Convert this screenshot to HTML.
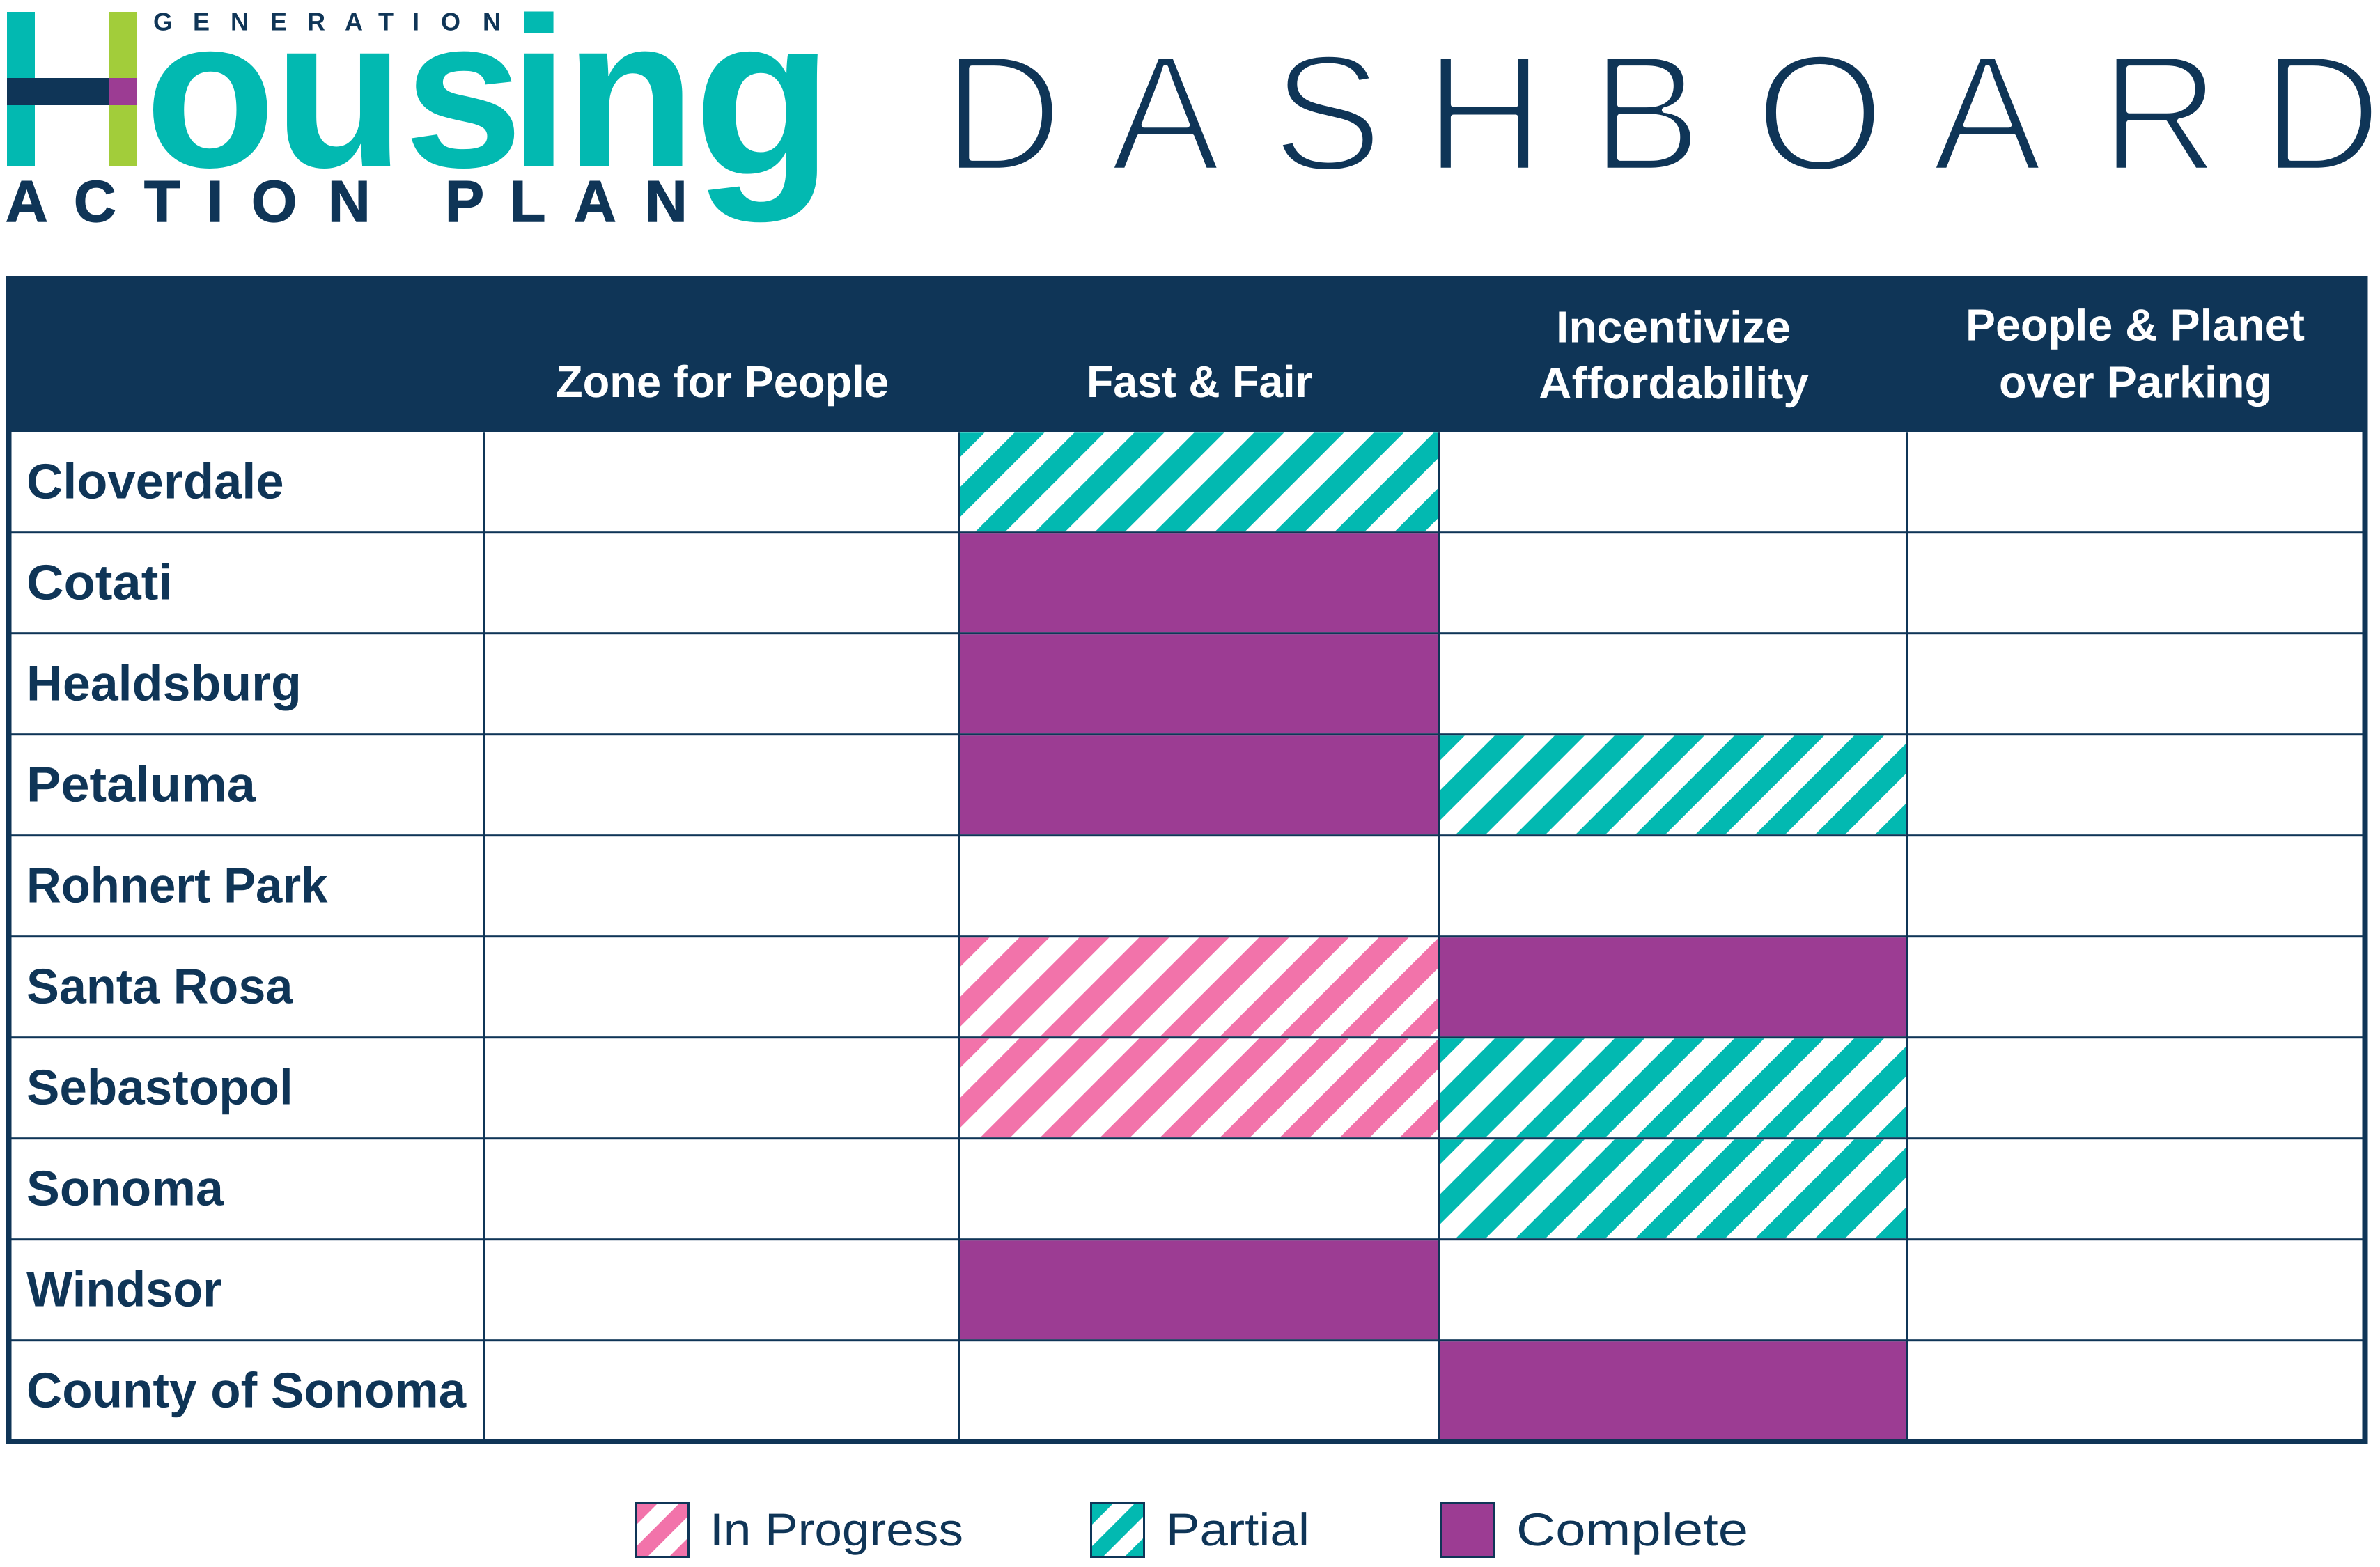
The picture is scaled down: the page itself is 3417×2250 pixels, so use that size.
<!DOCTYPE html>
<html lang="en">
<head>
<meta charset="utf-8">
<title>Generation Housing Action Plan Dashboard</title>
<style>
html,body{margin:0;padding:0;background:#fff;width:3417px;height:2250px;overflow:hidden}
svg{display:block}
text{font-family:"Liberation Sans",Arial,sans-serif;text-rendering:geometricPrecision}
.b{font-weight:700}
.hd{font-weight:700;font-size:64px;fill:#fff}
.lg{font-size:66px;fill:#0f3557}
</style>
</head>
<body>
<svg id="dash" xmlns="http://www.w3.org/2000/svg" width="3417" height="2250" viewBox="0 0 3417 2250">
  <rect x="0" y="0" width="3417" height="2250" fill="#fff"/>
  <g>
    <rect x="10" y="17" width="40" height="222" fill="#02b9b1"/>
    <rect x="157" y="17" width="39.5" height="222" fill="#a2cd3a"/>
    <rect x="10" y="112" width="147" height="39" fill="#0f3557"/>
    <rect x="157" y="112" width="39.5" height="39" fill="#9c3c93"/>
    <text class="b" font-size="307" fill="#02b9b1" x="208 393 580 731 811 996" y="239">ousin<tspan font-size="327" y="250">g</tspan></text>
    <text class="b" font-size="36" fill="#0f3557" x="220 277 331 388 441 495 543 592 633 693" y="43.5">GENERATION</text>
    <text class="b" font-size="84" fill="#0f3557" stroke="#0f3557" stroke-width="1.5" x="8 106 207 297 361 471 550 639 732 824 926" y="318">ACTION PLAN</text>
  </g>
  <text font-size="239" fill="#0f3557" stroke="#fff" stroke-width="8" stroke-linejoin="round" x="1353.4 1593.5 1826 2045 2284 2520 2773.5 3015 3247" y="244.7">DASHBOARD</text>

  <rect x="8" y="397" width="3391.5" height="224" fill="#0f3557"/>
  <g id="cells"></g>
  <g id="grid"></g>
  <g id="rowLabels"></g>
  <g fill="#0f3557">
    <rect x="8" y="397" width="8.5" height="1676"/>
    <rect x="3391.5" y="397" width="8" height="1676"/>
    <rect x="8" y="2066" width="3391.5" height="7"/>
  </g>

  <g>
    <text class="hd" x="798" y="570" textLength="478" lengthAdjust="spacingAndGlyphs">Zone for People</text>
    <text class="hd" x="1560" y="570" textLength="324" lengthAdjust="spacingAndGlyphs">Fast &amp; Fair</text>
    <text class="hd" x="2234" y="491.7" textLength="337" lengthAdjust="spacingAndGlyphs">Incentivize</text>
    <text class="hd" x="2209" y="572" textLength="388" lengthAdjust="spacingAndGlyphs">Affordability</text>
    <text class="hd" x="2822" y="488.7" textLength="487" lengthAdjust="spacingAndGlyphs">People &amp; Planet</text>
    <text class="hd" x="2870" y="570.7" textLength="392" lengthAdjust="spacingAndGlyphs">over Parking</text>
  </g>

  <g id="legend">
    <text class="lg" x="1019" y="2219" textLength="364" lengthAdjust="spacingAndGlyphs">In Progress</text>
    <text class="lg" x="1674" y="2219" textLength="206" lengthAdjust="spacingAndGlyphs">Partial</text>
    <text class="lg" x="2177" y="2219" textLength="333" lengthAdjust="spacingAndGlyphs">Complete</text>
  </g>
</svg>

<script>
// ---- data ----
const cities = ["Cloverdale","Cotati","Healdsburg","Petaluma","Rohnert Park","Santa Rosa","Sebastopol","Sonoma","Windsor","County of Sonoma"];
const actions = ["Zone for People","Fast & Fair","Incentivize Affordability","People & Planet over Parking"];
const statusNames = ["none","in-progress","partial","complete"];
// status code per city (0 none, 1 in progress, 2 partial, 3 complete)
const zoneForPeople = [0,0,0,0,0,0,0,0,0,0];
const fastAndFair   = [2,3,3,3,0,1,1,0,3,0];
const incentivize   = [0,0,0,2,0,3,2,2,0,3];
const peoplePlanet  = [0,0,0,0,0,0,0,0,0,0];
const series = [zoneForPeople, fastAndFair, incentivize, peoplePlanet];

// ---- axes and layout ----
const NS = "http://www.w3.org/2000/svg";
const NAVY = "#0f3557", TEAL = "#02b9b1", PINK = "#f273aa", PURPLE = "#9c3c93";
const ROW_H = 145, FIRST_ROW = 621.2, TABLE_BOTTOM = 2066;
const COL_EDGES = [16.5, 695, 1377.5, 2067, 2738.5, 3391.5];
const LINE_W = 3;
// typographic width correction for the substitute font
const LABEL_STRETCH = {"Cloverdale":1.018,"Cotati":1.044,"Healdsburg":1.011,"Petaluma":1.042,"Rohnert Park":0.97,"Santa Rosa":0.989,"Sebastopol":1,"Sonoma":1.01,"Windsor":0.99,"County of Sonoma":1};
function rowTop(i){ return FIRST_ROW + ROW_H * i; }
function rowBottom(i){ return Math.min(rowTop(i + 1) - LINE_W, TABLE_BOTTOM); }
function colLeft(j){ return COL_EDGES[j + 1]; }
function colRight(j){ return COL_EDGES[j + 2]; }
function slug(s){ return s.toLowerCase().replace(/[^a-z]+/g, "-"); }

function el(tag, parent, attrs){
  const e = document.createElementNS(NS, tag);
  for (const k in attrs) e.setAttribute(k, attrs[k]);
  parent.appendChild(e);
  return e;
}

let clipId = 0;
function drawStripes(parent, x, y, w, h, color, period, offset){
  const id = "clip" + (clipId++);
  const defs = el("clipPath", parent, {id: id});
  const clipRect = el("rect", defs, {x: x, y: y, width: w, height: h});
  
  
  const g = el("g", parent, {"clip-path": "url(#" + id + ")"});
  
  
  const sw = (period / 2) / Math.SQRT2;
  const n = Math.ceil((w + h) / period) + 1;
  for (let k = -1; k <= n; k++){
    const u = offset + period / 4 + k * period;
    const ln = el("line", g, {
      x1: x + u + 20, y1: y - 20,
      x2: x + u - h - 20, y2: y + h + 20,
      stroke: color, "stroke-width": sw
    });
    
    
  }
}

// ---- cells ----
const cellsG = document.getElementById("cells");
series.forEach(function(values, j){
  values.forEach(function(status, i){
    const x = colLeft(j), y = rowTop(i), w = colRight(j) - x, h = rowBottom(i) - y;
    const bg = el("rect", cellsG, {x: x, y: y, width: w, height: h, fill: status === 3 ? PURPLE : "#fff"});
    
    
    if (status === 1) drawStripes(cellsG, x, y, w, h, PINK, 86, 0);
    if (status === 2) drawStripes(cellsG, x, y, w, h, TEAL, 86, -7);
  });
});

// ---- grid ----
const gridG = document.getElementById("grid");
cities.forEach(function(c, i){
  if (i === 0) return;
  const rl = el("rect", gridG, {x: 16.5, y: rowTop(i) - LINE_W, width: 3375, height: LINE_W, fill: NAVY});
  
  
});
COL_EDGES.slice(1, 5).forEach(function(cx){
  const vl = el("rect", gridG, {x: cx - LINE_W / 2 - 0.5, y: FIRST_ROW, width: LINE_W, height: TABLE_BOTTOM - FIRST_ROW, fill: NAVY});
  
  
});

// ---- city labels ----
const labelsG = document.getElementById("rowLabels");
cities.forEach(function(c, i){
  const t = el("text", labelsG, {x: 38, y: rowTop(i) + 94.5, "font-size": 71, "font-weight": 700, fill: NAVY});
  t.textContent = c;
  
  
  const fit = LABEL_STRETCH[c] || 1;
  t.setAttribute('lengthAdjust', 'spacingAndGlyphs');
  t.setAttribute('textLength', t.getComputedTextLength() * fit);
});

// ---- legend swatches ----
const legendG = document.getElementById("legend");
function swatch(x, color, striped, name){
  const inner = el("rect", legendG, {x: x + 2, y: 2159, width: 75, height: 76, fill: striped ? "#fff" : color});
  
  
  if (striped) drawStripes(legendG, x + 2, 2159, 75, 76, color, 62, 0);
  const frame = el("rect", legendG, {x: x + 1.5, y: 2158.5, width: 76, height: 77, fill: "none", stroke: NAVY, "stroke-width": 3});
  
  
}
swatch(911, PINK, true, "in-progress");
swatch(1565, TEAL, true, "partial");
swatch(2067, PURPLE, false, "complete");
</script>
</body>
</html>
